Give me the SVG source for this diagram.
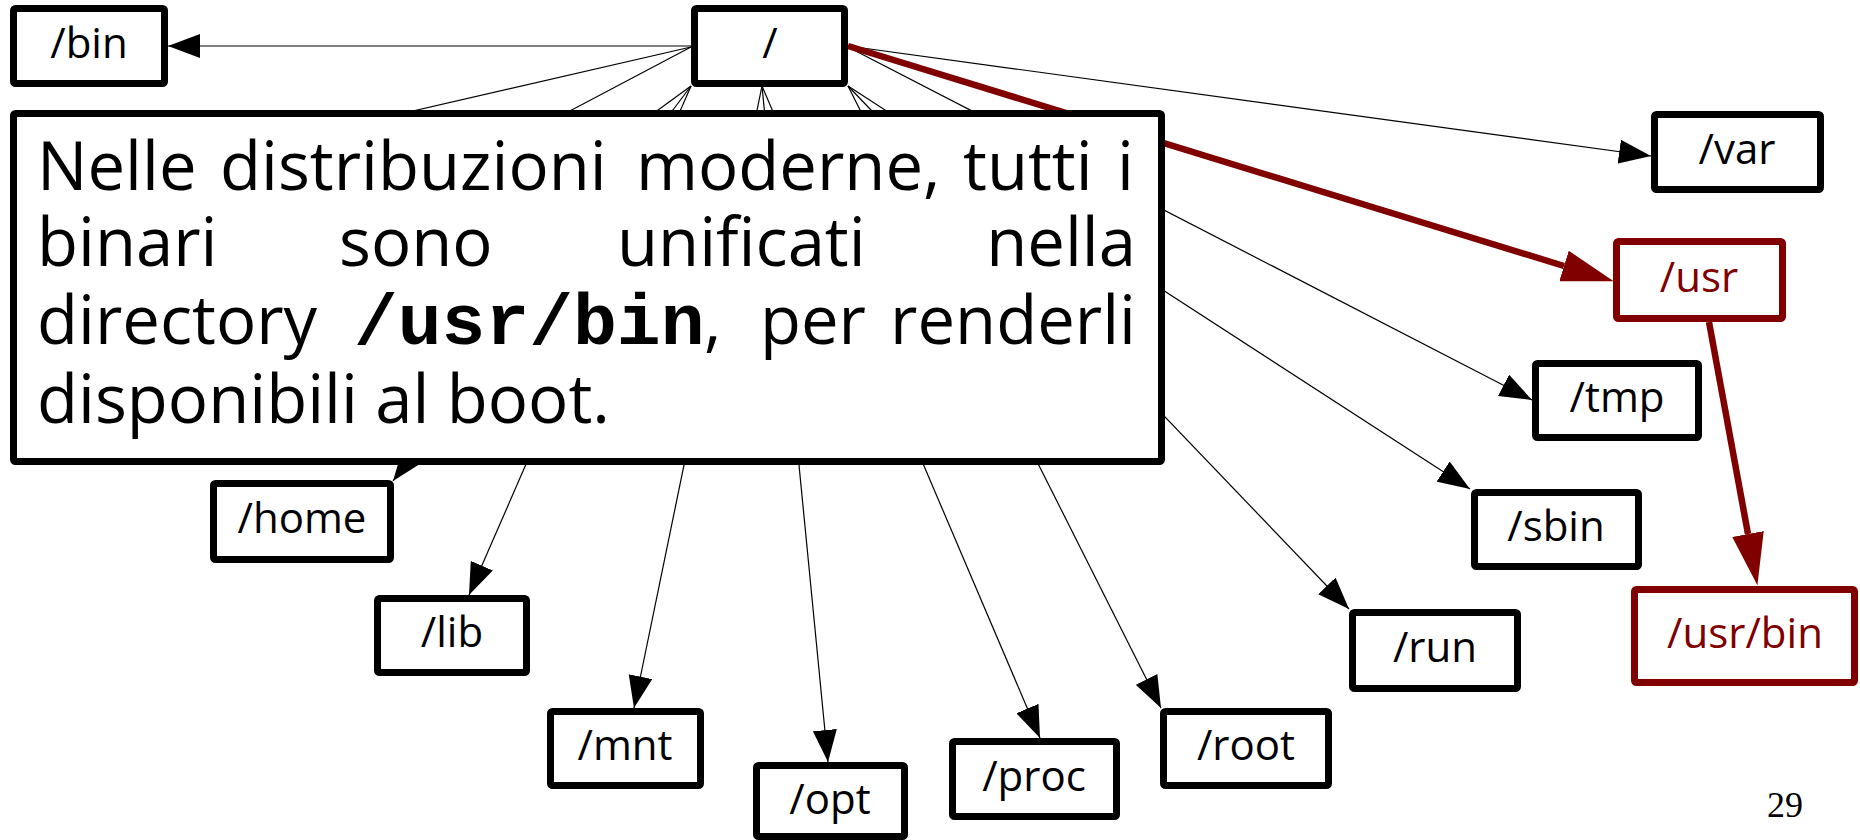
<svg xmlns="http://www.w3.org/2000/svg" width="1860" height="840" viewBox="0 0 1860 840">
  <style>
    .box { fill: #ffffff; stroke: #000000; stroke-width: 7; stroke-linejoin: round; }
    .box.hl { stroke: #800000; }
    .lbl { font-family: "Open Sans", "DejaVu Sans", sans-serif; font-size: 42px; fill: #000000; text-anchor: middle; }
    .lbl.hl { fill: #800000; }
    .edge { fill: none; stroke: #000000; stroke-width: 1.2; }
    .edge.hl { stroke: #800000; stroke-width: 6.5; }
    .note { font-family: "Open Sans", "DejaVu Sans", sans-serif; font-size: 67px; fill: #000000; }
    .mono { font-family: "Liberation Mono", "DejaVu Sans Mono", monospace; font-weight: bold; font-size: 73px; }
    .page { font-family: "Liberation Serif", "Times New Roman", serif; font-size: 36px; fill: #000000; }
  </style>
  <defs>
    <marker id="arrow" markerUnits="userSpaceOnUse" markerWidth="32" markerHeight="24" refX="32" refY="12" orient="auto">
      <path d="M0,0 L32,12 L0,24 z" fill="#000000"/>
    </marker>
    <marker id="arrow-hl" markerUnits="userSpaceOnUse" markerWidth="52" markerHeight="32" refX="0" refY="16" orient="auto">
      <path d="M0,0 L52,16 L0,32 z" fill="#800000"/>
    </marker>
  </defs>

  <rect width="1860" height="840" fill="#ffffff"/>

  <!-- connectors from the root directory -->
  <g id="connectors">
    <path class="edge" d="M691,46 L168,46" marker-end="url(#arrow)"/>
    <path class="edge" d="M691,47 L300,137"/>
    <path class="edge" d="M691,47 L420,190"/>
    <path class="edge" d="M691,86 L480,240"/>
    <path class="edge" d="M691,86 L393,481" marker-end="url(#arrow)"/>
    <path class="edge" d="M691,86 L469,595" marker-end="url(#arrow)"/>
    <path class="edge" d="M762,86 L634,708" marker-end="url(#arrow)"/>
    <path class="edge" d="M762,86 L828,762" marker-end="url(#arrow)"/>
    <path class="edge" d="M762,86 L1040,738" marker-end="url(#arrow)"/>
    <path class="edge" d="M848,86 L1161,708" marker-end="url(#arrow)"/>
    <path class="edge" d="M848,86 L1349,609" marker-end="url(#arrow)"/>
    <path class="edge" d="M848,86 L1470,489" marker-end="url(#arrow)"/>
    <path class="edge" d="M848,47 L1532,400" marker-end="url(#arrow)"/>
    <path class="edge" d="M848,46 L1651,156" marker-end="url(#arrow)"/>
    <!-- highlighted path / -> /usr -> /usr/bin -->
    <path class="edge hl" d="M848,46 L1564,266" marker-end="url(#arrow-hl)"/>
    <path class="edge hl" d="M1709,322 L1748,534" marker-end="url(#arrow-hl)"/>
  </g>

  <g id="node-root">
    <rect class="box" x="694.5" y="8.5" width="150" height="75" rx="2"/>
    <text class="lbl" x="770" y="58">/</text>
  </g>
  <g id="node-bin">
    <rect class="box" x="13.5" y="8.5" width="151" height="75" rx="2"/>
    <text class="lbl" x="89" y="58">/bin</text>
  </g>
  <g id="node-var">
    <rect class="box" x="1654.5" y="114.5" width="166" height="75" rx="2"/>
    <text class="lbl" x="1737" y="164">/var</text>
  </g>
  <g id="node-usr">
    <rect class="box hl" x="1616.5" y="241.5" width="166" height="77" rx="2"/>
    <text class="lbl hl" x="1699" y="292">/usr</text>
  </g>
  <g id="node-usr-bin">
    <rect class="box hl" x="1634.5" y="589.5" width="220" height="93" rx="2"/>
    <text class="lbl hl" x="1745" y="648">/usr/bin</text>
  </g>
  <g id="node-tmp">
    <rect class="box" x="1535.5" y="363.5" width="163" height="74" rx="2"/>
    <text class="lbl" x="1617" y="412">/tmp</text>
  </g>
  <g id="node-sbin">
    <rect class="box" x="1474.5" y="492.5" width="164" height="74" rx="2"/>
    <text class="lbl" x="1556" y="541">/sbin</text>
  </g>
  <g id="node-run">
    <rect class="box" x="1352.5" y="612.5" width="165" height="76" rx="2"/>
    <text class="lbl" x="1435" y="662">/run</text>
  </g>
  <g id="node-root-home">
    <rect class="box" x="1163.5" y="711.5" width="165" height="74" rx="2"/>
    <text class="lbl" x="1246" y="760">/root</text>
  </g>
  <g id="node-proc">
    <rect class="box" x="952.5" y="741.5" width="164" height="75" rx="2"/>
    <text class="lbl" x="1034" y="791">/proc</text>
  </g>
  <g id="node-opt">
    <rect class="box" x="756.5" y="765.5" width="148" height="71" rx="2"/>
    <text class="lbl" x="830" y="814">/opt</text>
  </g>
  <g id="node-mnt">
    <rect class="box" x="550.5" y="711.5" width="150" height="74" rx="2"/>
    <text class="lbl" x="625" y="760">/mnt</text>
  </g>
  <g id="node-lib">
    <rect class="box" x="377.5" y="598.5" width="149" height="74" rx="2"/>
    <text class="lbl" x="452" y="647">/lib</text>
  </g>
  <g id="node-home">
    <rect class="box" x="213.5" y="483.5" width="177" height="76" rx="2"/>
    <text class="lbl" x="302" y="533">/home</text>
  </g>

  <!-- explanatory note, laid over the middle of the tree -->
  <g id="note">
    <rect class="box" x="13.5" y="113.5" width="1148" height="348" rx="2"/>
    <text class="note" y="190"><tspan x="37">Nelle</tspan><tspan x="220">distribuzioni</tspan><tspan x="636">moderne,</tspan><tspan x="963">tutti</tspan></text>
    <text class="note" x="1134" y="190" text-anchor="end">i</text>
    <text class="note" y="266"><tspan x="37">binari</tspan><tspan x="339">sono</tspan><tspan x="617">unificati</tspan></text>
    <text class="note" x="1136" y="266" text-anchor="end">nella</text>
    <text class="note" y="344"><tspan x="37">directory</tspan><tspan class="mono" x="354">/usr/bin</tspan><tspan x="704">,</tspan><tspan x="760">per</tspan></text>
    <text class="note" x="1136" y="344" text-anchor="end">renderli</text>
    <text class="note" x="37" y="423">disponibili al boot.</text>
  </g>

  <text id="page-number" class="page" x="1767" y="817">29</text>
</svg>
